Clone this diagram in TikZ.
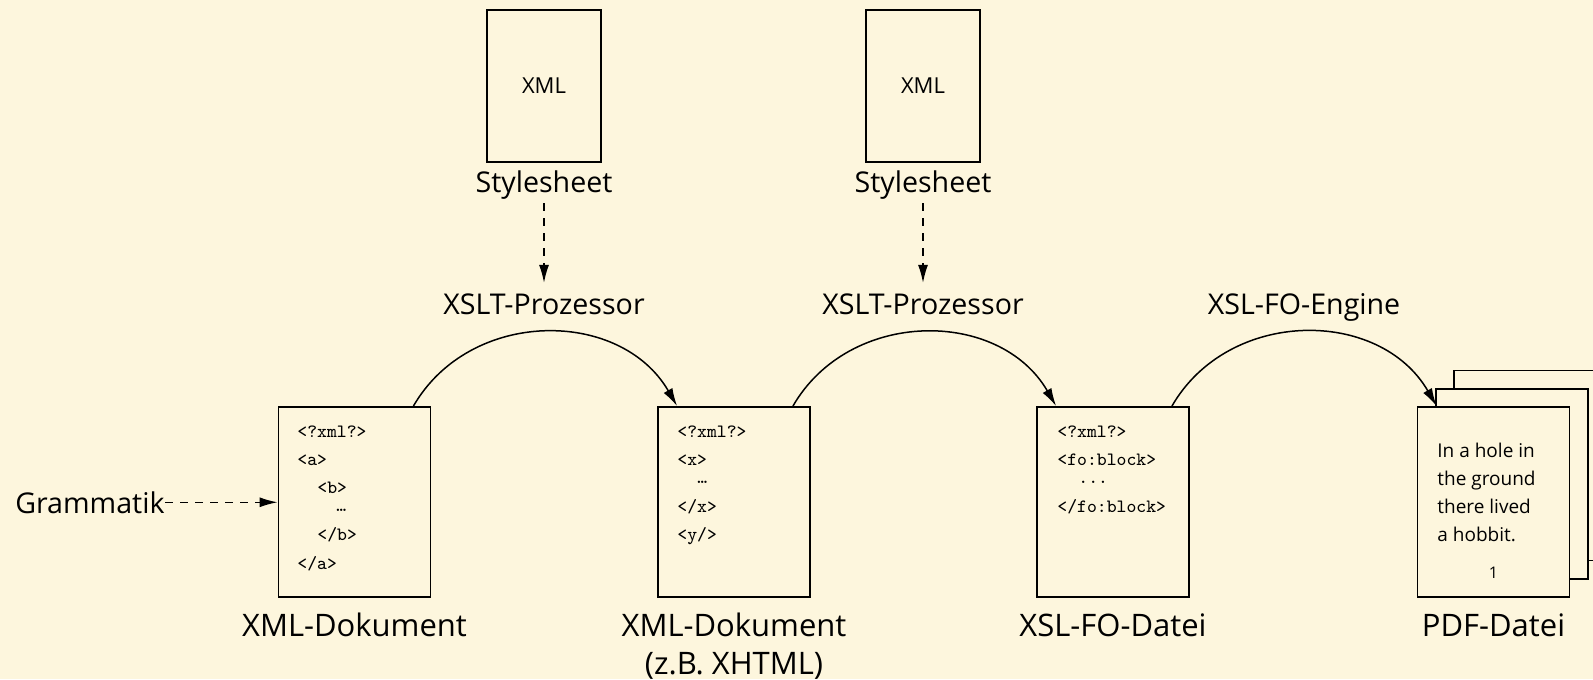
\documentclass[tikz,border=0pt]{standalone}
\usepackage{fontspec}
\setmainfont{Open Sans}
\usetikzlibrary{calc,arrows.meta}
\definecolor{paper}{RGB}{253,246,221}
\begin{document}
\begin{tikzpicture}[x=0.5pt,y=0.5pt,
  doc/.style={draw,line width=0.9pt,fill=paper,minimum width=76pt,minimum height=95pt,inner sep=0pt},
  sheet/.style={draw,line width=0.9pt,minimum width=57pt,minimum height=76pt,inner sep=0pt,font=\fontsize{11}{13}\selectfont},
  lab/.style={font=\fontsize{14.3}{17}\selectfont,anchor=base,inner sep=2pt},
  doclab/.style={font=\fontsize{15.5}{18}\selectfont,anchor=base,inner sep=2pt},
  code/.style={font=\ttfamily\fontsize{9.4}{11}\selectfont,anchor=base west,inner sep=0pt},
  prose/.style={font=\fontsize{9.5}{11}\selectfont,anchor=base west,inner sep=0pt},
  flow/.style={-{Latex[length=9pt,width=5pt]},line width=0.75pt},
  hint/.style={flow,dash pattern=on 4pt off 3.5pt},
]
% canvas
\fill[paper] (0,0) rectangle (1593,-679);
\useasboundingbox (0,0) rectangle (1593,-679);
\clip (0,0) rectangle (1593,-679);

% stylesheets
\node[sheet] (ss1) at (544,-86) {XML};
\node[sheet] (ss2) at (923,-86) {XML};
\node[lab] (ss1l) at (544,-192) {Stylesheet};
\node[lab] (ss2l) at (923,-192) {Stylesheet};

% processing steps
\node[lab] (p1) at (544,-314) {XSLT-Prozessor};
\node[lab] (p2) at (923,-314) {XSLT-Prozessor};
\node[lab] (p3) at (1304,-314) {XSL-FO-Engine};

% documents
\node[doc] (d1) at (354.5,-502) {};
\node[doc] (d2) at (734,-502) {};
\node[doc] (d3) at (1113,-502) {};
\node[doc] (pg3) at (1530,-465.5) {};
\node[doc] (pg2) at (1512,-484) {};
\node[doc] (d4) at (1493.5,-502) {};

% document contents
\node[code] (a1) at (297,-437) {<?xml?>};
\node[code] (a2) at (297,-465) {<a>};
\node[code] (a3) at (317,-493) {<b>};
\node[code] (a4) at (336,-511) {…};
\node[code] (a5) at (317,-540) {</b>};
\node[code] (a6) at (297,-569) {</a>};

\node[code] (b1) at (677,-437) {<?xml?>};
\node[code] (b2) at (677,-465) {<x>};
\node[code] (b3) at (697,-483) {…};
\node[code] (b4) at (677,-512) {</x>};
\node[code] (b5) at (677,-540) {<y/>};

\node[code] (c1) at (1057,-437) {<?xml?>};
\node[code] (c2) at (1057,-465) {<fo:block>};
\node[code] (c3) at (1078,-483) {...};
\node[code] (c4) at (1057,-512) {</fo:block>};

\node[prose] (t1) at (1437,-457) {In a hole in};
\node[prose] (t2) at (1437,-485) {the ground};
\node[prose] (t3) at (1437,-513) {there lived};
\node[prose] (t4) at (1437,-541) {a hobbit.};
\node[font=\fontsize{8}{10}\selectfont,anchor=base,inner sep=0pt] (pn) at (1493.5,-578) {1};

% labels below
\node[doclab] (l1) at (354.5,-636) {XML-Dokument};
\node[doclab] (l2) at (734,-636) {XML-Dokument};
\node[doclab] (l2b) at (734,-674) {(z.B. XHTML)};
\node[doclab] (l3) at (1113,-636) {XSL-FO-Datei};
\node[doclab] (l4) at (1493.5,-636) {PDF-Datei};

\node[font=\fontsize{14.3}{17}\selectfont,anchor=base east,inner sep=0pt] (gr) at (165,-513) {Grammatik};

% connectors
\draw[hint,shorten >=3pt] (ss1l.south) -- (p1.north);
\draw[hint,shorten >=3pt] (ss2l.south) -- (p2.north);
\draw[hint] (gr.east) -- (gr.east -| d1.west);

\coordinate (o1) at ($(d1.north east)+(-18,0)$);
\coordinate (i2) at ($(d2.north west)+(20,0)$);
\coordinate (o2) at ($(d2.north east)+(-18,0)$);
\coordinate (i3) at ($(d3.north west)+(20,0)$);
\coordinate (o3) at ($(d3.north east)+(-18,0)$);
\coordinate (i4) at ($(d4.north west)+(20,0)$);
\draw[flow] (o1) to[out=60,in=120,looseness=1.1] (i2);
\draw[flow] (o2) to[out=60,in=120,looseness=1.1] (i3);
\draw[flow] (o3) to[out=60,in=120,looseness=1.1] (i4);
\end{tikzpicture}
\end{document}
